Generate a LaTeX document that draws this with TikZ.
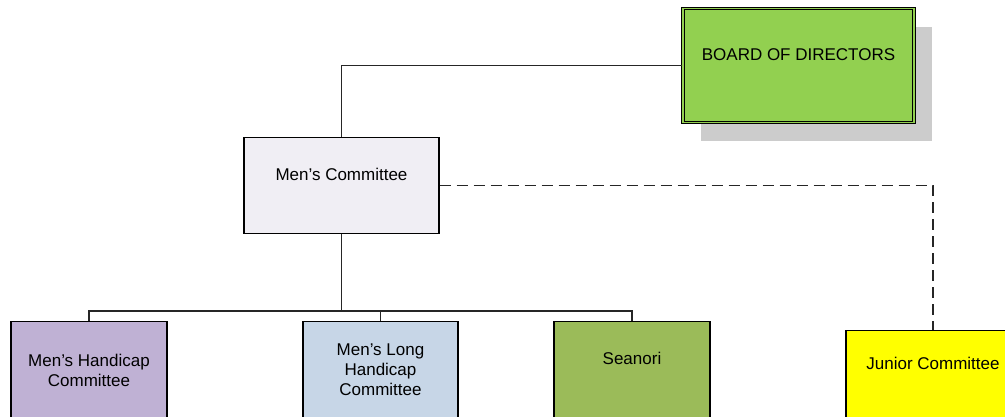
\documentclass[tikz,border=0pt]{standalone}
\usepackage{fontspec}
\setmainfont{Liberation Sans}
\usepackage{tikz}
\usetikzlibrary{shadows}

\definecolor{boardgreen}{RGB}{146,208,80}
\definecolor{menlilac}{RGB}{240,238,244}
\definecolor{hcpurple}{RGB}{191,177,212}
\definecolor{longblue}{RGB}{199,214,231}
\definecolor{seaolive}{RGB}{155,187,89}
\definecolor{junyellow}{RGB}{255,255,0}

\begin{document}
\begin{tikzpicture}[
					x=1pt,y=-1pt,
					unit/.style={rectangle,draw,line width=1.4pt,inner sep=0pt,anchor=north,align=center,font=\fontsize{17}{20}\selectfont},
					conn/.style={draw=black!85,line width=1.5pt},
					dconn/.style={conn,dash pattern=on 11pt off 6pt}
					]
					\useasboundingbox (0,0) rectangle (1005,417);
					\clip (0,0) rectangle (1005,417);
					% board with its shadow
					\node[unit,fill=boardgreen,line width=1.1pt,double=boardgreen,double distance=1.6pt,
						minimum width=231pt,text height=52pt,text depth=62pt,
						drop shadow={shadow xshift=18pt,shadow yshift=-18pt,fill=black!20,opacity=1}]
						(board) at (798.5,8) {BOARD OF DIRECTORS};
					\node[unit,fill=menlilac,minimum width=195pt,text height=43pt,text depth=53pt] (mc) at (341.5,137) {Men's Committee};
					\node[unit,fill=hcpurple,minimum width=156pt,minimum height=98pt] (mch) at (89,321) {Men's Handicap\\Committee};
					\node[unit,fill=longblue,minimum width=155pt,minimum height=96pt] (mlh) at (380.5,321) {Men's Long\\Handicap\\Committee};
					\node[unit,fill=seaolive,minimum width=156pt,text height=43pt,text depth=60pt] (sea) at (632,321) {Seanori};
					\node[unit,fill=junyellow,minimum width=174pt,text height=39pt,text depth=55pt] (jun) at (933,330) {Junior Committee};
					\coordinate (bus) at (341.5,311);
					\draw[conn] (board.west) -| (mc.north);
					\draw[conn] (mc.south) -- (bus);
					\draw[conn] (mch.north) |- (bus) -| (sea.north);
					\draw[conn] (mlh.north) -- (mlh.north |- bus);
					\draw[dconn] (mc.east) -| (jun.north);
				\end{tikzpicture}
\end{document}
